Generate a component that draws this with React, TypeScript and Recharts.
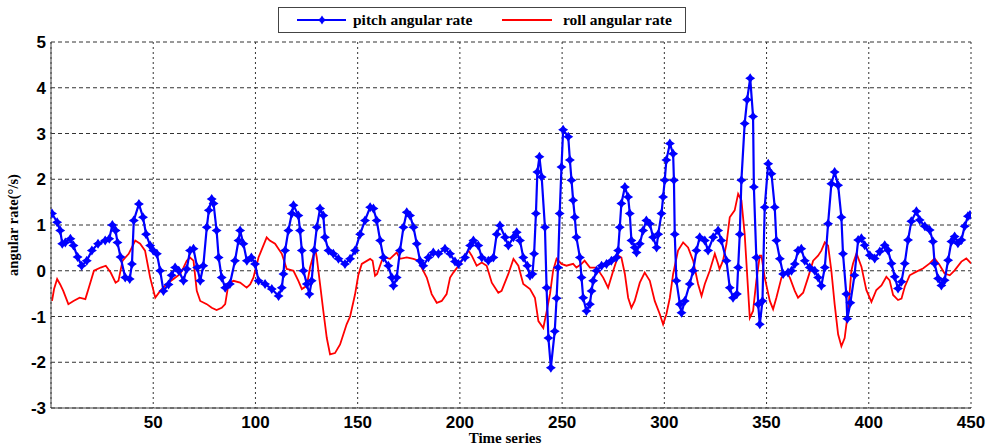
import React from 'react'
import { LineChart, Line, XAxis, YAxis, CartesianGrid } from 'recharts'

// pitch angular rate (time index, deg/s)
const pitchTime = [
  0.5, 3, 4.5, 5.5, 7, 9.5, 11, 13, 15, 17.5, 20, 23, 26.5, 28.5, 30, 31.6, 32.5, 34, 36.3, 38.5,
  39.6, 40.5, 43, 45, 46.5, 48.5, 50, 51.8, 53.4, 55, 57.5, 59, 60.7, 62.5, 64.8, 66.4, 68, 69.7, 71.5, 73,
  74.5, 76.2, 77.2, 78.6, 79.5, 81, 82, 83.5, 85.2, 87.5, 90, 91.7, 92.5, 94.1, 95.8, 98, 99.8, 101.5, 104.7, 108,
  111.3, 112.9, 113.7, 114.5, 116.1, 117.8, 118.6, 121, 121.8, 122.7, 123.5, 125.1, 126.4, 127.5, 128.7, 130, 131.6, 133.2, 134, 135.7,
  138.1, 140.6, 143.8, 146.3, 148.7, 151.2, 153.6, 156.1, 157.7, 159.3, 161, 162.6, 165, 166.7, 167.5, 169.1, 170.7, 172.4, 174, 175.6,
  177.3, 178.9, 180.5, 182.1, 184.6, 187, 189.5, 192.7, 195.2, 197.6, 199.3, 202.5, 205, 206.6, 209, 210.7, 213.9, 216.4, 218, 219.6,
  222.1, 223.7, 226.2, 227.8, 229.4, 231, 233, 234.3, 235.5, 236.3, 237.2, 237.9, 238.9, 240, 241.6, 242.4, 243.3, 244.5, 246.4, 247.3,
  248, 248.8, 249.7, 250.5, 253, 253.8, 254.6, 255.4, 256.2, 257, 258.7, 259.5, 260.3, 261.9, 263.6, 264.4, 265.2, 266.8, 269.3, 271.7,
  274.1, 276.6, 277.4, 278.2, 279, 280.7, 282.3, 283.1, 283.9, 285.5, 286.4, 288, 289.6, 291.2, 292.9, 294.5, 296.2, 297, 298.6, 299.4,
  300.2, 301, 302.7, 304.3, 304.7, 305.1, 305.9, 307.6, 308.4, 310, 312.4, 314.1, 315.7, 317.3, 319.8, 321.4, 323.9, 326.3, 327.9, 330.4,
  332, 333.6, 335.5, 336.1, 336.9, 337.7, 339.3, 340.5, 342, 343.4, 343.8, 345, 345.9, 346.7, 348, 349.1, 350.8, 352.4, 354, 354.8,
  356.5, 358.1, 360.5, 362.2, 363.8, 365.4, 367, 368.7, 371.1, 373.6, 375.2, 376.8, 378.5, 380.1, 381.7, 383.3, 385, 386.6, 387.4, 389,
  389.5, 391, 393, 394.8, 396.4, 398, 400.5, 402.9, 405.4, 407.8, 409.4, 411.1, 412.7, 414.3, 416, 417.6, 419.2, 420.8, 423.3, 424.9,
  427.4, 429.8, 431.4, 432.2, 433.9, 435.5, 437.1, 438.8, 440.4, 442, 443.6, 445.3, 446.9, 448.5, 449.5
]
const pitchRate = [
  1.25, 1.06, 0.88, 0.59, 0.62, 0.7, 0.55, 0.3, 0.11, 0.22, 0.44, 0.59, 0.66, 0.7, 1.0, 0.88, 0.62, 0.3, -0.15, -0.18,
  0.15, 1.1, 1.46, 1.17, 0.8, 0.55, 0.44, 0.37, 0, -0.44, -0.3, -0.1, 0.07, 0, -0.22, 0.04, 0.44, 0.48, 0.07, -0.22,
  0.11, 0.95, 1.32, 1.57, 1.47, 0.88, 0.29, -0.15, -0.37, -0.29, 0.22, 0.66, 0.88, 0.59, 0.22, 0.29, 0.15, -0.22, -0.29, -0.4,
  -0.55, -0.37, -0.07, 0.44, 0.88, 1.25, 1.43, 1.21, 0.88, 0.44, 0, -0.29, -0.51, -0.22, 0.44, 0.95, 1.36, 1.21, 0.73, 0.44,
  0.37, 0.26, 0.15, 0.26, 0.44, 0.8, 1.1, 1.39, 1.36, 1.1, 0.66, 0.29, 0.11, -0.15, -0.33, -0.15, 0.44, 0.95, 1.28, 1.21,
  0.95, 0.59, 0.22, 0.11, 0.29, 0.4, 0.37, 0.48, 0.37, 0.2, 0.15, 0.29, 0.55, 0.66, 0.55, 0.29, 0.22, 0.29, 0.8, 0.99,
  0.73, 0.55, 0.73, 0.84, 0.66, 0.29, 0.11, -0.11, -0.07, 0.37, 1.25, 2.16, 2.49, 2.05, 0.95, -0.37, -1.47, -2.12, -1.32, -0.6,
  0.07, 1.25, 2.27, 3.08, 2.93, 2.42, 1.98, 1.54, 1.17, 0.73, 0.29, -0.15, -0.59, -0.88, -0.73, -0.44, -0.22, 0, 0.11, 0.15,
  0.22, 0.29, 0.44, 0.95, 1.47, 1.83, 1.61, 1.25, 0.66, 0.51, 0.4, 0.59, 0.88, 1.1, 1.03, 0.73, 0.51, 0.8, 1.25, 1.61,
  1.98, 2.42, 2.78, 2.56, 1.98, 0.8, -0.22, -0.73, -0.92, -0.66, -0.29, 0, 0.44, 0.73, 0.66, 0.44, 0.73, 0.88, 0.66, 0.22,
  -0.37, -0.59, -0.51, 0.07, 0.8, 1.98, 3.22, 3.74, 4.21, 3.37, 1.83, 0.29, -0.73, -1.17, -0.66, 1.39, 2.34, 2.12, 1.39, 0.66,
  0.26, -0.07, -0.04, 0, 0.15, 0.44, 0.48, 0.22, 0.07, 0, -0.15, -0.33, 0.07, 1.03, 1.9, 2.16, 1.87, 1.17, 0.37, -0.51,
  -1.05, -0.7, -0.1, 0.67, 0.71, 0.56, 0.34, 0.27, 0.42, 0.56, 0.45, 0.16, -0.13, -0.39, -0.24, 0.16, 0.67, 1.08, 1.3, 1.11,
  0.97, 0.89, 0.64, 0.16, -0.17, -0.32, -0.21, 0.23, 0.64, 0.75, 0.6, 0.67, 0.97, 1.19, 1.22
]

// roll angular rate
const rollTime = [
  0.5, 1.5, 3, 4.5, 6, 8.5, 11, 14, 16.8, 18.5, 21, 24.3, 26.8, 29.2, 31.6, 33, 35, 38, 41.2, 43.6,
  46, 48.5, 51, 53.4, 56.6, 59.9, 63.2, 64.8, 66.4, 68, 69.7, 71.3, 73, 76.2, 78.6, 81, 83.5, 85.2, 86.8, 89.2,
  92.5, 95.7, 97.4, 99, 101.5, 105.5, 107, 109.6, 112.9, 115.3, 118.6, 121, 122.7, 125.1, 126.7, 129.2, 130, 131.6, 133.2, 134.9,
  136.5, 138.9, 141.4, 144.6, 146.3, 148.7, 150.3, 152, 156.1, 157.3, 158.5, 159.5, 161.8, 163.4, 165.8, 169.1, 170.7, 174, 177.3, 179.7,
  181.3, 183.8, 186.2, 188.7, 191.1, 193.5, 195.2, 196.8, 200.1, 201.7, 204.2, 205.8, 208.2, 210.7, 213.1, 215.6, 218.8, 220.4, 223.7, 226.2,
  228.6, 231, 234.3, 236.7, 238.4, 240.8, 242.4, 244.1, 245.6, 247.3, 249.7, 252.1, 255.4, 257, 259.5, 261, 263.6, 266.8, 270.1, 272.5,
  275, 277.4, 279, 280.7, 282.3, 283.9, 285.5, 288, 290.4, 292.9, 295.3, 297.8, 299.4, 301, 302.7, 304.3, 306.7, 309.2, 311.6, 314.1,
  316.5, 318.2, 319.8, 322.2, 324.7, 326.3, 327, 328.7, 330.4, 332, 334.4, 336.1, 337.7, 339.3, 341.8, 343.4, 345, 346.7, 347.5, 349.1,
  351.6, 353.2, 354.8, 357.3, 359.7, 361.4, 363.8, 365.4, 367.9, 370.3, 372.8, 375.2, 376.8, 378.5, 380.1, 381.7, 383.3, 385, 386.6, 388.2,
  389.9, 391.5, 392.3, 394, 396.4, 398.8, 401.3, 403.7, 406.2, 408.6, 410.2, 411.9, 414.3, 416, 417.6, 420, 423.3, 426.5, 429.8, 432.2,
  434.7, 437.1, 439.6, 442, 445.3, 447.7, 450
]
const rollRate = [
  -0.66, -0.4, -0.18, -0.3, -0.44, -0.73, -0.66, -0.59, -0.62, -0.37, 0, 0.07, 0.11, -0.04, -0.26, -0.22, 0.22, 0.37, 0.66, 0.59,
  0.44, -0.15, -0.59, -0.44, -0.29, -0.18, -0.07, 0.07, 0.22, 0.29, 0.22, -0.44, -0.66, -0.73, -0.81, -0.86, -0.81, -0.73, -0.29, -0.22,
  -0.26, -0.37, -0.3, -0.15, 0.29, 0.73, 0.66, 0.59, 0.37, 0.04, 0, -0.22, -0.4, -0.33, 0.07, 0.48, 0.29, -0.29, -0.88, -1.47,
  -1.83, -1.8, -1.61, -1.17, -1.0, -0.52, -0.1, 0.15, 0.26, 0.22, -0.11, -0.07, 0.22, 0.29, 0.26, 0.4, 0.26, 0.29, 0.26, 0.22,
  0.07, -0.15, -0.51, -0.7, -0.66, -0.51, -0.15, -0.04, 0.15, 0.29, 0.44, 0.33, 0.11, 0.18, 0.11, -0.26, -0.48, -0.44, -0.07, 0.26,
  0.11, -0.29, -0.4, -0.59, -1.1, -1.25, -0.9, -0.5, 0, 0.26, 0.15, 0.11, 0.15, 0.07, 0.15, 0.22, 0.07, 0.07, -0.15, -0.37,
  0, 0.33, 0.29, -0.07, -0.59, -0.81, -0.66, -0.26, -0.04, -0.22, -0.66, -0.95, -1.17, -0.95, -0.59, -0.07, 0.44, 0.62, 0.51, 0.22,
  -0.29, -0.55, -0.29, 0, 0.37, 0.15, 0.04, 0.22, 0.59, 1.17, 1.32, 1.68, 1.54, 0.8, -1.03, -0.88, -0.22, 0.33, 0.33, -0.15,
  -0.66, -0.84, -0.59, -0.15, -0.04, -0.15, -0.44, -0.59, -0.48, -0.15, 0.22, 0.33, 0.44, 0.62, 0.55, 0, -0.73, -1.39, -1.65, -1.47,
  -0.88, 0, 0.16, 0.38, 0.09, -0.42, -0.68, -0.42, -0.32, -0.13, -0.21, -0.53, -0.64, -0.61, -0.35, -0.1, -0.02, 0.05, 0.16, 0.27,
  0.12, -0.06, -0.1, 0.01, 0.2, 0.27, 0.16
]

const xTicks = [50, 100, 150, 200, 250, 300, 350, 400, 450]
const yTicks = [-3, -2, -1, 0, 1, 2, 3, 4, 5]

const pitchData = pitchTime.map((t, i) => ({ t, v: pitchRate[i] }))
const rollData = rollTime.map((t, i) => ({ t, v: rollRate[i] }))

const BLUE = '#0000ff'
const RED = '#ff0000'
const tickFont = { fontFamily: 'Liberation Sans', fontWeight: 'bold', fontSize: 17, fill: '#000' }

const starPath = (x: number, y: number, r: number) => {
  const s = r * 0.4
  return `M${x},${y - r}L${x + s},${y - s}L${x + r},${y}L${x + s},${y + s}L${x},${y + r}L${x - s},${y + s}L${x - r},${y}L${x - s},${y - s}Z`
}

const StarDot = (props: any) => {
  const { cx, cy, index } = props
  if (cx == null || cy == null) return null
  return <path key={`star-${index}`} d={starPath(cx, cy, 5)} fill={BLUE} />
}

function LegendBox() {
  return (
    <div style={{ position: 'absolute', left: 278, top: 7, width: 408, height: 26, border: '1px solid #444', background: '#fff', boxSizing: 'border-box' }}>
      <svg width={406} height={24}>
        <line x1={18} y1={12} x2={67} y2={12} stroke={BLUE} strokeWidth={2} />
        <path d={starPath(43, 12, 4.5)} fill={BLUE} />
        <text x={74} y={17} fontFamily="Liberation Serif" fontWeight="bold" fontSize={15.5}>pitch angular rate</text>
        <line x1={223} y1={12} x2={273} y2={12} stroke={RED} strokeWidth={2} />
        <text x={284} y={17} fontFamily="Liberation Serif" fontWeight="bold" fontSize={15.5}>roll angular rate</text>
      </svg>
    </div>
  )
}

export default function App() {
  return (
    <div style={{ position: 'absolute', left: 0, top: 0, width: 990, height: 448, background: '#fff' }}>
      <LineChart width={990} height={448} margin={{ top: 42, right: 19, bottom: 0, left: 0 }}>
        <CartesianGrid vertical={false} stroke="#333" strokeDasharray="4 3" />
        <CartesianGrid horizontal={false} stroke="#333" strokeDasharray="2 3" />
        <XAxis
          type="number"
          dataKey="t"
          domain={[0, 450]}
          ticks={xTicks}
          allowDataOverflow
          height={40}
          tick={tickFont}
          tickLine={false}
          axisLine={{ stroke: '#444' }}
          label={{ value: 'Time series', position: 'insideBottom', offset: 5, dx: -6, style: { fontFamily: 'Liberation Serif', fontWeight: 'bold', fontSize: 15, fill: '#000' } }}
        />
        <XAxis xAxisId="top" orientation="top" type="number" domain={[0, 450]} height={0} tick={false} tickLine={false} axisLine={{ stroke: '#444' }} />
        <YAxis
          type="number"
          domain={[-3, 5]}
          ticks={yTicks}
          allowDataOverflow
          width={51}
          tick={tickFont}
          tickLine={false}
          tickSize={3}
          axisLine={{ stroke: '#444' }}
          label={{ value: 'angular rate(°/s)', angle: -90, position: 'insideLeft', offset: 13, style: { textAnchor: 'middle', fontFamily: 'Liberation Serif', fontWeight: 'bold', fontSize: 14.5, fill: '#000' } }}
        />
        <YAxis yAxisId="right" orientation="right" type="number" domain={[-3, 5]} width={0} tick={false} tickLine={false} axisLine={{ stroke: '#000', strokeWidth: 1.5 }} />
        <Line data={rollData} dataKey="v" type="linear" stroke={RED} strokeWidth={1.8} dot={false} isAnimationActive={false} />
        <Line data={pitchData} dataKey="v" type="linear" stroke={BLUE} strokeWidth={2.2} dot={StarDot} isAnimationActive={false} />
      </LineChart>
      <LegendBox />
    </div>
  )
}
